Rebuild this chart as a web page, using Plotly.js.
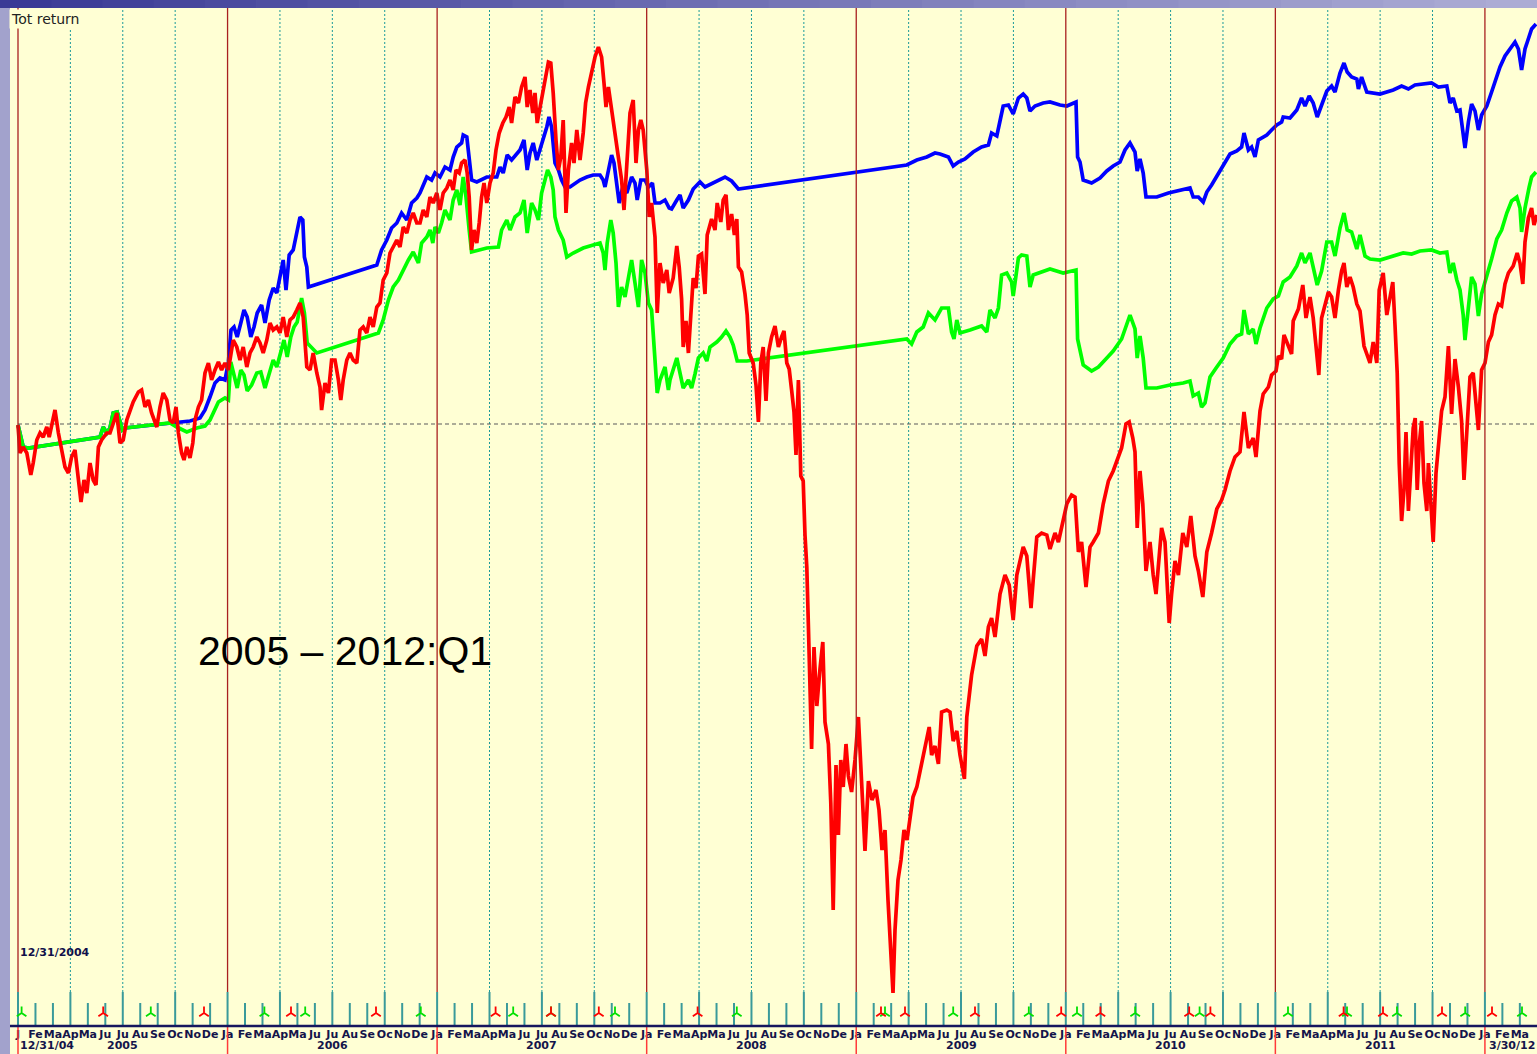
<!DOCTYPE html>
<html><head><meta charset="utf-8">
<script src="https://cdn.plot.ly/plotly-3.0.1.min.js"></script>
<style>html,body{margin:0;padding:0;background:#FFFFD4;}#chart{width:1537px;height:1054px;}</style>
</head><body><div id="chart"></div>
<script>
// x: weeks since 12/31/2004, y: total return (%)
const bluePts = [[0,-0.1],[1.3,-2.3],[2.6,-2.4],[20.5,-1.3],[21.3,-0.3],[22.2,-0.9],[23,-0.4],[23.8,1.1],[24.8,1.2],[25.5,0.2],[26.1,-0.6],[26.75,-0.4],[38,0.1],[39.7,0.1],[43,0.3],[45.5,0.6],[46.75,1.4],[48,2.7],[49.25,4.1],[50.5,4.6],[51.75,4.4],[52.6,6.2],[53.25,9.4],[54,9.7],[54.8,8.7],[55.7,10.1],[56.5,11.4],[57.3,10.7],[58.2,8.7],[59,9.7],[59.8,11.1],[60.9,11.9],[61.75,10.1],[62.8,12.4],[63.8,13.6],[64.7,13.1],[65.7,15.1],[66.3,16.4],[67,13.4],[67.8,16.9],[68.8,17.4],[69.7,19.4],[70.5,20.7],[71.2,20.4],[71.6,16.7],[72.2,15.7],[72.6,13.7],[89.7,15.9],[90.9,17.4],[92.2,18.4],[93.4,19.6],[94.7,20.1],[95.9,21.1],[97.2,20.4],[98.4,22.1],[99.7,22.6],[100.5,23.1],[102.2,24.7],[103.4,24.4],[104.25,25.1],[105.5,24.7],[106.75,25.7],[108,25.4],[108.8,26.7],[109.7,27.7],[110.9,28.1],[111.3,28.9],[112.2,28.7],[112.8,26.1],[113.4,24.4],[114.7,24.2],[117.2,24.7],[119.7,24.7],[120.5,25.7],[121.3,25.1],[122.3,26.9],[123.4,26.4],[124.7,27.1],[125.5,27.4],[126.5,28.4],[127.3,25.4],[128,27.1],[128.8,28.1],[129.7,26.4],[130.5,27.4],[131.3,28.4],[132.2,29.7],[132.75,30.7],[133.4,29.7],[134.25,26.1],[135.1,25.4],[135.9,24.4],[136.75,23.7],[138,23.7],[139.25,24.1],[140.5,24.4],[142.2,24.7],[143.8,24.9],[145.5,24.9],[146.3,24.4],[146.75,23.7],[147.6,25.4],[148.4,26.9],[149,26.1],[149.8,23.7],[150.3,22.1],[151.2,23.7],[152.2,23.1],[153.4,24.7],[154.25,24.1],[154.8,22.4],[155.7,24.4],[156.75,24.4],[157.6,23.7],[158.6,24.1],[159.25,22.1],[160.5,22.1],[161.75,22.4],[162.8,21.6],[163.4,21.5],[164.7,22.4],[165.5,22.9],[166.3,21.6],[167.6,22.4],[168.8,23.5],[170.5,24.2],[171.75,23.7],[173.4,24.0],[175.1,24.3],[176.75,24.7],[178.4,24.3],[180.1,23.5],[222.2,25.9],[224.7,26.4],[227.2,26.7],[229.25,27.1],[230.5,27.0],[232.6,26.7],[233.8,25.8],[235.1,26.2],[236.75,26.5],[238.8,27.2],[240.9,27.7],[242.6,27.9],[243.4,29.1],[244.7,28.8],[245.5,30.3],[246.3,31.8],[247.6,31.9],[248.8,31.0],[250.1,32.6],[251.3,33.0],[252.2,32.6],[253,31.3],[254.25,31.8],[256.3,32.1],[258,32.2],[260.5,31.9],[262.2,31.8],[264.5,32.2],[264.9,26.7],[265.5,26.2],[266.3,24.4],[268.4,24.1],[270.5,24.6],[272.2,25.3],[273.8,25.8],[275.5,26.2],[276.75,27.4],[278,28.1],[279.25,27.2],[279.8,25.3],[280.5,26.5],[281.3,25.1],[282,22.7],[284.7,22.7],[287.6,23.1],[290.5,23.4],[293,23.6],[293.8,22.7],[295.1,22.7],[296.3,22.2],[297.2,23.2],[298.4,23.9],[299.7,24.8],[301.3,25.8],[303,27.0],[304.7,27.3],[305.9,27.7],[306.5,29.1],[307.6,27.4],[308.4,27.7],[309.25,26.7],[310.1,28.4],[312.2,28.9],[313.4,29.4],[314.7,29.9],[315.9,30.2],[316.3,30.7],[318,30.6],[319.7,31.4],[320.9,32.6],[321.75,31.8],[322.8,32.8],[323.8,32.1],[324.8,30.7],[325.9,31.8],[327.2,33.3],[328.4,33.8],[329.25,33.2],[330.5,35.1],[331.5,36.1],[332.3,35.2],[333.4,34.7],[334.7,34.5],[335.1,33.5],[335.9,34.7],[337.2,33.2],[340.5,33.0],[343.8,33.4],[345.9,33.8],[347.6,33.5],[349.25,33.9],[351.3,34.0],[353.4,34.1],[355.1,33.7],[357.2,33.8],[358,32.1],[358.8,32.6],[359.7,31.3],[360.5,31.4],[360.9,30.2],[361.75,27.6],[362.6,30.2],[363.4,32.0],[364.25,31.3],[365.1,29.4],[365.9,30.9],[367.2,31.8],[368.4,33.2],[369.7,34.7],[370.5,35.7],[371.75,36.8],[373,37.5],[374.25,38.2],[375.1,37.5],[375.9,35.4],[376.75,37.5],[377.6,38.5],[378.4,39.5],[379.5,40.0]];

const greenPts = [[0,-0.1],[1.3,-2.3],[2.6,-2.4],[20.5,-1.3],[21.3,-0.3],[22.2,-0.9],[23,-0.4],[23.8,1.1],[24.8,1.2],[25.5,0.2],[26.1,-0.6],[26.75,-0.4],[38,0.1],[39.7,-0.3],[42.2,-0.8],[44.7,-0.4],[46.75,-0.2],[48,0.4],[49,1.2],[50.1,2.2],[51.75,2.6],[52.6,2.4],[53.2,6.2],[54,4.9],[54.8,3.6],[55.7,5.4],[56.5,4.9],[57.3,3.3],[58.4,3.9],[59.7,5.1],[60.7,5.2],[61.75,3.6],[63,5.4],[63.8,6.4],[64.7,5.7],[65.7,7.2],[66.5,8.4],[67.3,6.7],[68.2,8.7],[69,9.7],[69.8,10.2],[70.9,12.6],[71.6,11.1],[72.3,8.1],[74.7,7.1],[90.1,9.1],[91.3,10.4],[92.6,12.4],[93.8,13.7],[95.1,14.4],[96.3,15.4],[97.6,16.4],[98.8,17.2],[100.1,16.1],[100.9,18.1],[102.2,18.7],[103,19.4],[103.7,18.1],[104.25,19.7],[105.1,19.1],[105.9,20.1],[106.75,21.4],[108,20.4],[108.8,22.4],[109.7,23.4],[110.5,21.9],[111.3,24.7],[112,22.7],[112.8,19.4],[113.4,17.2],[117.2,17.6],[120.1,17.7],[120.9,19.4],[122.2,20.4],[123,19.4],[124.25,20.7],[125.5,21.1],[126.5,22.4],[127.3,19.1],[128.4,22.1],[129.25,21.4],[130.1,20.4],[130.9,23.1],[131.75,24.4],[132.4,25.4],[133.2,24.7],[133.8,23.4],[134.25,20.7],[135.1,19.4],[136.3,18.4],[137.2,16.7],[138.8,17.1],[141.3,17.6],[143.8,17.9],[145.5,18.1],[146.3,17.1],[146.75,15.4],[147.3,18.1],[148.2,20.4],[148.8,19.1],[149.5,16.1],[150.1,11.7],[150.9,13.7],[151.75,12.7],[152.6,14.7],[153.4,16.4],[154.25,14.1],[155.1,11.7],[155.9,16.4],[156.75,15.1],[157.6,12.1],[158.4,11.4],[159.25,6.4],[159.8,3.1],[160.5,4.4],[161.75,5.7],[162.6,3.4],[163,4.4],[164.7,6.6],[165.5,5.0],[166.3,3.6],[167.6,4.4],[168.4,3.6],[169.25,5.0],[170.1,6.6],[171.3,7.1],[172.2,6.3],[173,7.7],[174.7,8.2],[175.9,8.7],[177,9.3],[178,8.7],[178.8,7.9],[179.8,6.3],[182.2,6.3],[222.2,8.5],[223.4,8.0],[224.7,9.2],[226.3,9.7],[227.6,11.1],[229.25,10.4],[230.9,11.6],[232.6,11.6],[233.4,9.2],[234,8.5],[234.7,10.4],[235.5,9.1],[238,9.4],[240.9,9.8],[242.2,9.2],[243,11.4],[244.25,10.6],[245.1,11.6],[245.9,14.9],[247.2,15.1],[248.4,14.2],[248.8,12.8],[250.1,16.6],[250.9,16.9],[252.2,16.8],[253,13.7],[253.8,14.9],[256.3,15.2],[258,15.5],[261.3,15.1],[264.5,15.4],[264.9,8.5],[266.3,5.9],[268.4,5.3],[270.1,5.7],[272.2,6.6],[273.8,7.3],[275.9,8.5],[277.2,9.9],[278,10.9],[279.25,9.5],[279.8,6.6],[280.5,8.8],[281.3,6.6],[282,3.6],[284.7,3.6],[288,3.9],[291.3,4.1],[293,4.3],[293.8,2.8],[295.1,3.1],[295.9,1.7],[296.75,2.1],[298,4.7],[299.7,5.7],[301.3,6.6],[303,8.0],[304.7,8.8],[305.9,9.0],[306.5,11.4],[307.6,9.0],[308.8,9.5],[309.5,8.0],[310.5,9.6],[312.2,11.6],[313.8,12.5],[315.1,12.8],[316.3,14.2],[318,14.7],[319.7,15.8],[320.9,17.1],[321.75,16.1],[323,17.1],[323.8,15.8],[324.8,13.9],[325.9,15.3],[327.2,18.2],[328.4,18.2],[329.25,16.8],[330.5,19.6],[331.5,21.1],[332.3,19.4],[333.4,19.2],[334.7,17.5],[335.5,18.9],[336.75,16.8],[338,16.5],[340.5,16.4],[343.8,16.8],[346.3,17.1],[348.4,17.0],[350.5,17.3],[353.4,17.4],[355.5,17.1],[357.2,17.2],[358,15.1],[358.8,16.1],[359.7,14.4],[360.5,13.4],[361.3,10.9],[361.75,8.4],[362.6,11.6],[363.4,14.7],[364.25,14.0],[365.1,10.8],[365.9,13.0],[367.2,14.7],[368.4,16.5],[369.7,18.5],[370.9,19.4],[372.2,21.1],[373.4,22.3],[374.7,22.7],[375.5,21.6],[375.9,19.2],[376.75,21.6],[377.8,23.7],[378.4,24.7],[379.5,25.2]];

const redPts = [[0,-0.1],[0.5,-2.9],[1.3,-2.3],[2.2,-2.9],[3.2,-5.1],[3.8,-3.9],[4.7,-1.6],[5.5,-0.9],[6.3,-1.3],[7.2,-0.3],[7.8,-1.3],[8.4,-0.3],[9.25,1.4],[10.1,-0.9],[10.9,-2.6],[11.75,-4.3],[12.6,-4.9],[13.4,-3.3],[14.25,-2.6],[15.1,-5.6],[15.75,-7.8],[16.5,-5.6],[17.2,-6.9],[18,-3.9],[18.8,-5.6],[19.5,-6.1],[20.1,-2.3],[20.9,-1.6],[22.2,-0.9],[23,-0.9],[23.8,0.1],[24.7,1.1],[25.5,-1.9],[26.3,-1.6],[27.2,0.4],[28,1.4],[28.8,2.2],[30.1,3.2],[30.9,3.4],[31.75,1.7],[32.6,2.4],[33.4,1.1],[34.7,-0.3],[35.5,1.7],[36.3,3.1],[37.2,2.4],[38,0.4],[38.8,0.1],[39.5,1.7],[40.1,-0.9],[40.9,-2.9],[41.5,-3.6],[42.2,-2.3],[43,-3.4],[43.7,-1.9],[44.25,0.4],[45.1,1.7],[45.9,2.4],[46.75,5.1],[47.6,6.1],[48.4,4.4],[49.25,5.4],[50.1,6.2],[50.9,5.4],[51.75,6.1],[52.6,5.4],[53.2,7.1],[53.8,8.4],[54.7,7.7],[55.5,6.4],[56.3,7.7],[57.2,5.7],[58,7.1],[58.8,7.7],[59.7,8.7],[60.5,8.1],[61.3,7.1],[62.2,8.4],[63,10.1],[63.8,9.4],[64.7,9.7],[65.5,9.1],[66.3,10.7],[67.2,8.7],[68,10.4],[68.8,10.7],[69.7,11.4],[70.5,12.1],[71.3,10.7],[72.2,5.7],[73,5.4],[73.8,7.1],[74.7,5.1],[75.5,3.7],[75.9,1.4],[76.75,4.1],[77.6,3.1],[78.4,6.4],[79.25,6.4],[80.1,4.4],[80.7,2.4],[81.3,4.4],[82.2,6.4],[83,7.1],[83.8,6.4],[84.7,6.1],[85.5,9.4],[86.3,9.7],[87.2,9.1],[88,10.7],[88.8,9.7],[89.7,11.7],[90.5,12.1],[91.3,14.4],[92.2,15.1],[93,17.1],[93.8,17.7],[94.7,18.4],[95.5,17.7],[96.3,19.7],[97.2,19.1],[98,20.4],[98.8,21.1],[99.7,20.1],[100.5,20.1],[101.3,21.4],[102.2,20.7],[103,22.7],[103.8,22.1],[104.7,23.1],[105.5,21.4],[106.3,23.1],[107.2,23.6],[108,24.4],[108.8,23.4],[109.5,25.4],[110.3,25.1],[110.9,26.1],[111.75,26.4],[112.3,25.1],[112.8,22.7],[113.4,17.4],[114,19.4],[114.7,18.1],[115.3,20.1],[115.9,22.7],[116.5,24.1],[117.2,22.1],[118,24.1],[118.8,25.1],[119.5,27.4],[120.3,29.1],[121.2,30.1],[122,30.7],[122.8,31.7],[123.4,30.1],[124.25,32.7],[125.1,32.1],[125.9,33.7],[126.75,34.7],[127.3,31.7],[128,33.4],[128.7,31.1],[129.25,33.1],[129.8,30.1],[130.5,31.7],[131.2,33.1],[132,34.7],[132.6,36.2],[133.2,36.1],[133.8,33.1],[134.5,28.4],[135.1,25.4],[135.7,26.7],[136.3,30.4],[137,21.1],[137.6,25.4],[138.4,28.1],[139,26.1],[139.7,29.4],[140.5,26.4],[141.3,29.1],[141.9,32.1],[142.6,33.7],[143.4,35.1],[144.25,36.7],[145.1,37.7],[145.9,36.7],[146.5,34.1],[147,31.7],[147.6,33.7],[148.4,31.4],[149.25,28.7],[150.1,26.7],[150.9,24.4],[151.5,21.4],[152.2,26.1],[153,31.1],[153.8,32.4],[154.5,26.1],[155.1,29.4],[155.7,30.4],[156.3,29.4],[157.2,25.4],[157.8,20.7],[158.4,22.1],[159.25,18.7],[159.8,11.1],[160.5,16.1],[161.3,14.1],[162.2,15.4],[162.8,13.1],[163.8,14.6],[164.7,17.8],[165.3,15.7],[165.9,12.5],[166.3,7.7],[167,10.3],[167.6,7.1],[168.2,11.4],[168.8,14.6],[169.5,13.6],[170.1,16.8],[170.9,17.0],[171.75,13.0],[172.3,18.9],[173.4,20.5],[174.25,19.4],[174.8,22.1],[175.7,20.2],[176.3,22.4],[177,22.9],[177.6,19.4],[178.4,21.0],[179.1,18.9],[179.7,20.5],[180.1,15.7],[180.9,15.2],[181.75,13.0],[182.3,10.9],[182.8,7.1],[183.8,6.1],[184.5,3.9],[185.1,0.2],[185.7,6.1],[186.3,7.7],[187,2.3],[187.6,7.1],[188.4,8.7],[189.25,9.8],[190.1,7.7],[190.9,8.7],[191.5,9.3],[192.2,6.1],[192.8,5.5],[193.4,3.4],[194,1.2],[194.5,-3.1],[195.1,4.4],[195.7,-5.2],[196.3,-5.7],[196.75,-11.1],[197.2,-14.3],[197.6,-20.2],[198,-27.2],[198.4,-32.5],[199,-22.3],[199.7,-28.2],[200.5,-24.5],[201.2,-21.8],[201.75,-29.8],[202.6,-32.0],[203.2,-37.9],[203.8,-48.6],[204.5,-34.1],[205.1,-41.1],[205.7,-33.6],[206.3,-36.3],[207,-32.0],[207.6,-35.2],[208.4,-36.8],[209.25,-33.6],[210.1,-29.3],[210.9,-35.7],[211.75,-42.7],[212.6,-35.7],[213.5,-37.6],[214.5,-36.6],[215.25,-38.6],[216,-42.6],[216.75,-40.6],[217.5,-47.6],[218.25,-52.6],[218.75,-56.9],[219.25,-50.6],[220,-45.6],[220.75,-43.6],[221.5,-40.6],[222.25,-41.6],[223,-39.1],[223.75,-37.3],[224.7,-36.3],[226.75,-32.6],[227.8,-30.3],[228.4,-33.1],[229.25,-32.2],[230.1,-34.0],[230.9,-28.8],[232.2,-28.6],[233,-28.8],[233.8,-31.7],[234.7,-30.7],[235.5,-33.1],[236.6,-35.5],[237.2,-29.3],[238.4,-25.1],[239.7,-22.2],[240.9,-21.5],[241.75,-23.2],[242.6,-20.3],[243.4,-19.4],[244.25,-21.3],[245.5,-17.0],[246.75,-15.1],[247.8,-16.1],[248.8,-19.6],[249.7,-15.1],[251.3,-12.3],[252.2,-13.2],[253.25,-18.4],[253.8,-15.6],[254.7,-11.3],[255.9,-10.9],[257.2,-11.1],[258,-12.5],[259.25,-10.9],[260.1,-11.8],[261.3,-9.5],[262.2,-8.0],[263.4,-7.1],[264.25,-7.3],[265.1,-12.8],[265.9,-11.8],[267,-16.3],[268,-12.3],[268.8,-11.8],[270.1,-10.9],[271.3,-8.0],[272.6,-5.7],[273.8,-4.7],[274.7,-3.8],[275.9,-2.4],[277,0],[277.8,0.2],[278.7,-1.4],[279.25,-2.8],[279.8,-10.4],[280.5,-4.7],[281.2,-8.0],[282,-14.7],[283,-11.8],[283.8,-15.1],[284.5,-17.0],[285.9,-10.4],[286.75,-11.8],[287.8,-19.9],[288.4,-17.0],[289.25,-13.7],[290.1,-15.1],[291.2,-10.9],[292.2,-12.3],[293.2,-9.2],[294.25,-13.2],[295.1,-14.7],[296.2,-17.3],[297.2,-12.8],[298.4,-10.9],[299.7,-8.5],[300.9,-7.6],[301.75,-6.6],[303,-4.7],[304.25,-3.3],[305.5,-2.8],[306.5,1.2],[307.6,-2.4],[308.8,-1.4],[309.5,-3.3],[310.5,1.3],[311.3,3.0],[312.6,3.7],[313.4,4.9],[314.5,5.3],[315.1,6.8],[315.9,6.5],[316.5,8.9],[317.6,7.7],[318.4,7.0],[318.8,10.3],[320.1,11.5],[321.2,13.9],[322,10.6],[323,12.7],[323.8,10.6],[324.5,7.8],[325.2,4.9],[325.9,10.6],[326.75,12.0],[327.6,13.2],[328.4,12.7],[329.25,10.6],[330.1,13.4],[330.9,15.3],[331.5,16.1],[332.2,13.7],[333,14.7],[333.8,13.7],[334.7,12.0],[335.5,11.3],[336.5,7.8],[337.3,6.8],[338,6.1],[338.8,8.2],[339.7,6.1],[340.3,13.4],[341.3,15.1],[342.2,10.9],[343,12.7],[343.7,14.2],[344.25,9.9],[344.8,5.1],[345.3,-3.9],[345.9,-9.7],[346.5,-6.6],[347,-0.8],[347.6,-8.7],[348.2,-3.9],[348.8,-0.4],[349.3,0.6],[349.8,-6.6],[350.3,-2.1],[350.9,0.3],[351.5,-5.9],[352.2,-8.7],[352.6,-3.9],[353.2,-8.0],[353.8,-11.8],[354.5,-4.9],[355.1,-1.8],[355.9,1.3],[356.75,2.7],[357.6,7.8],[358.4,1.0],[359.25,6.5],[360.1,3.7],[360.9,0.3],[361.5,-5.6],[362.2,-0.4],[363,4.7],[363.8,5.1],[364.7,0.3],[365.1,-0.6],[365.9,5.4],[366.75,6.1],[367.6,8.2],[368.4,8.9],[369.25,10.9],[370.1,12.0],[370.9,11.8],[371.75,14.0],[372.6,15.1],[373.8,15.8],[374.8,17.1],[375.5,16.1],[376.2,14.0],[376.75,18.2],[377.6,20.6],[378.4,21.6],[379,19.9],[379.7,20.9]];

// buy / sell signal positions (weeks)
const buySignals = [0.9,33.2,61.6,71.8,100.7,123.8,133.25,149.25,179.7,216.75,233.8,252.7,264.75,279.3,295.4,317.5,332.25,344.75,361.8,376];
const sellSignals = [21.3,46.5,68.25,89.5,119.4,133.25,145.2,169.9,215.75,221.75,239.25,260.8,270.6,292.8,298.1,331.4,341.25,356,368.5];

const monthLabels = ["J","Fe","Ma","Ap","Ma","Ju","Ju","Au","Se","Oc","No","De",
 "Ja","Fe","Ma","Ap","Ma","Ju","Ju","Au","Se","Oc","No","De",
 "Ja","Fe","Ma","Ap","Ma","Ju","Ju","Au","Se","Oc","No","De",
 "Ja","Fe","Ma","Ap","Ma","Ju","Ju","Au","Se","Oc","No","De",
 "Ja","Fe","Ma","Ap","Ma","Ju","Ju","Au","Se","Oc","No","De",
 "Ja","Fe","Ma","Ap","Ma","Ju","Ju","Au","Se","Oc","No","De",
 "Ja","Fe","Ma","Ap","Ma","Ju","Ju","Au","Se","Oc","No","De",
 "Ja","Fe","Ma"];
const yearLabels = ["2005","2006","2007","2008","2009","2010","2011"];
const startLabel = "12/31/04";
const endLabel = "3/30/12";
const baseDateLabel = "12/31/2004";
const panelLabel = "Tot return";
const periodLabel = "2005 \u2013 2012:Q1";

// ---- scale helpers ----
const WEEKS_PER_YEAR = 52.39;
const XMIN = -2, XMAX = 379.75, YMIN = -60.2, YMAX = 41.6;
const monthPos = monthLabels.map((_, i) => i * WEEKS_PER_YEAR / 12);

function lineTrace(pts, color) {
  return {x: pts.map(p => p[0]), y: pts.map(p => p[1]), type: 'scatter', mode: 'lines',
    line: {color: color, width: 3.7}, hoverinfo: 'skip', cliponaxis: true};
}
function sigTrace(xs, color) {
  return {x: xs, y: xs.map(() => -58.9), type: 'scatter', mode: 'markers', cliponaxis: false,
    marker: {symbol: 'y-up', size: 8, color: color, line: {color: color, width: 1.8}}, hoverinfo: 'skip'};
}

const shapes = [];
// quarter dotted grid
monthPos.forEach((x, i) => {
  if (i % 3 === 0 && i % 12 !== 0) {
    shapes.push({type: 'line', xref: 'x', yref: 'y', x0: x, x1: x, y0: -56.8, y1: YMAX,
      line: {color: '#1b9a9a', width: 1, dash: '2px,2px'}, layer: 'below'});
  }
});
// zero baseline
shapes.push({type: 'line', xref: 'x', yref: 'y', x0: 0, x1: XMAX, y0: 0, y1: 0,
  line: {color: '#5a5a5a', width: 1.2, dash: '4px,3px'}, layer: 'below'});
// month ticks
monthPos.forEach((x, i) => {
  shapes.push({type: 'line', xref: 'x', yref: 'y', x0: x, x1: x, y0: (i % 3 === 0 ? -56.8 : -57.9), y1: YMIN,
    line: {color: '#3a9a9a', width: 2}, layer: 'below'});
});
// year separator lines
monthPos.forEach((x, i) => {
  if (i % 12 === 0) {
    shapes.push({type: 'line', xref: 'x', yref: 'y', x0: x, x1: x, y0: -56.8, y1: YMAX,
      line: {color: '#a82020', width: 1.3}, layer: 'above'});
    shapes.push({type: 'line', xref: 'x', yref: 'paper', x0: x, x1: x, y0: -28/1018, y1: 0,
      line: {color: '#ff3a3a', width: 1.5}, layer: 'above'});
  }
});
// axis line
shapes.push({type: 'line', xref: 'paper', yref: 'paper', x0: 0, x1: 1, y0: 0, y1: 0,
  line: {color: '#16165e', width: 2.5}, layer: 'above'});
// window frame strips
const lx0 = -10/1527, ty1 = 1 + 8/1018, by0 = -28/1018;
shapes.push({type: 'rect', xref: 'paper', yref: 'paper', x0: lx0, x1: 0, y0: by0, y1: ty1,
  fillcolor: '#a2a2cc', line: {width: 0}, layer: 'above'});
const N = 30;
function mix(a, b, t) { return Math.round(a + (b - a) * t); }
for (let i = 0; i < N; i++) {
  const t = i / (N - 1);
  const c = 'rgb(' + mix(58, 172, t) + ',' + mix(58, 172, t) + ',' + mix(150, 212, t) + ')';
  const span = (1 - lx0) / N;
  shapes.push({type: 'rect', xref: 'paper', yref: 'paper', x0: lx0 + i * span, x1: lx0 + (i + 1) * span + 0.0005,
    y0: 1, y1: ty1, fillcolor: c, line: {width: 0}, layer: 'above'});
}

const annotations = [];
const labFont = {family: 'DejaVu Sans', size: 11, color: '#14144a', weight: 'bold'};
yearLabels.forEach((t, k) => {
  annotations.push({text: t, xref: 'x', yref: 'paper', x: monthPos[12 * k + 6], y: -19/1018,
    xanchor: 'center', yanchor: 'middle', showarrow: false, font: labFont});
});
annotations.push({text: startLabel, xref: 'x', yref: 'paper', x: 0, y: -19/1018, xanchor: 'left', yanchor: 'middle',
  showarrow: false, font: labFont});
annotations.push({text: endLabel, xref: 'paper', yref: 'paper', x: 1, y: -19/1018, xanchor: 'right', yanchor: 'middle',
  showarrow: false, font: labFont});
annotations.push({text: baseDateLabel, xref: 'x', yref: 'y', x: 0, y: -52.8, xanchor: 'left', yanchor: 'middle',
  showarrow: false, font: {family: 'DejaVu Sans', size: 11, color: '#10104a', weight: 'bold'}});
annotations.push({text: panelLabel, xref: 'paper', yref: 'paper', x: 0, y: 1, xanchor: 'left', yanchor: 'top',
  xshift: -1, yshift: -1, showarrow: false, bgcolor: '#FFFFD4', borderpad: 1,
  font: {family: 'DejaVu Sans', size: 14, color: '#222222'}});
annotations.push({text: periodLabel, xref: 'paper', yref: 'paper', x: (196 - 10) / 1527, y: (1026 - 651) / 1018,
  xanchor: 'left', yanchor: 'middle', showarrow: false,
  font: {family: 'Liberation Sans, Arial, sans-serif', size: 41, color: '#000000'}});

const data = [
  lineTrace(bluePts, '#0000ff'),
  lineTrace(greenPts, '#00ff00'),
  lineTrace(redPts, '#ff0000'),
  sigTrace(buySignals, '#00e000'),
  sigTrace(sellSignals, '#ff0000')
];

const layout = {
  width: 1537, height: 1054,
  margin: {l: 10, r: 0, t: 8, b: 28, pad: 0},
  paper_bgcolor: '#FFFFD4', plot_bgcolor: '#FFFFD4',
  showlegend: false, hovermode: false,
  xaxis: {range: [XMIN, XMAX], showgrid: false, zeroline: false, showline: false,
    tickmode: 'array', tickvals: monthPos, ticktext: monthLabels, ticks: '', tickangle: 0,
    tickfont: {family: 'DejaVu Sans', size: 11, color: '#14144a', weight: 'bold'}, fixedrange: true},
  yaxis: {range: [YMIN, YMAX], visible: false, fixedrange: true},
  shapes: shapes, annotations: annotations
};

Plotly.newPlot('chart', data, layout, {staticPlot: true, displayModeBar: false});
</script>
</body></html>
